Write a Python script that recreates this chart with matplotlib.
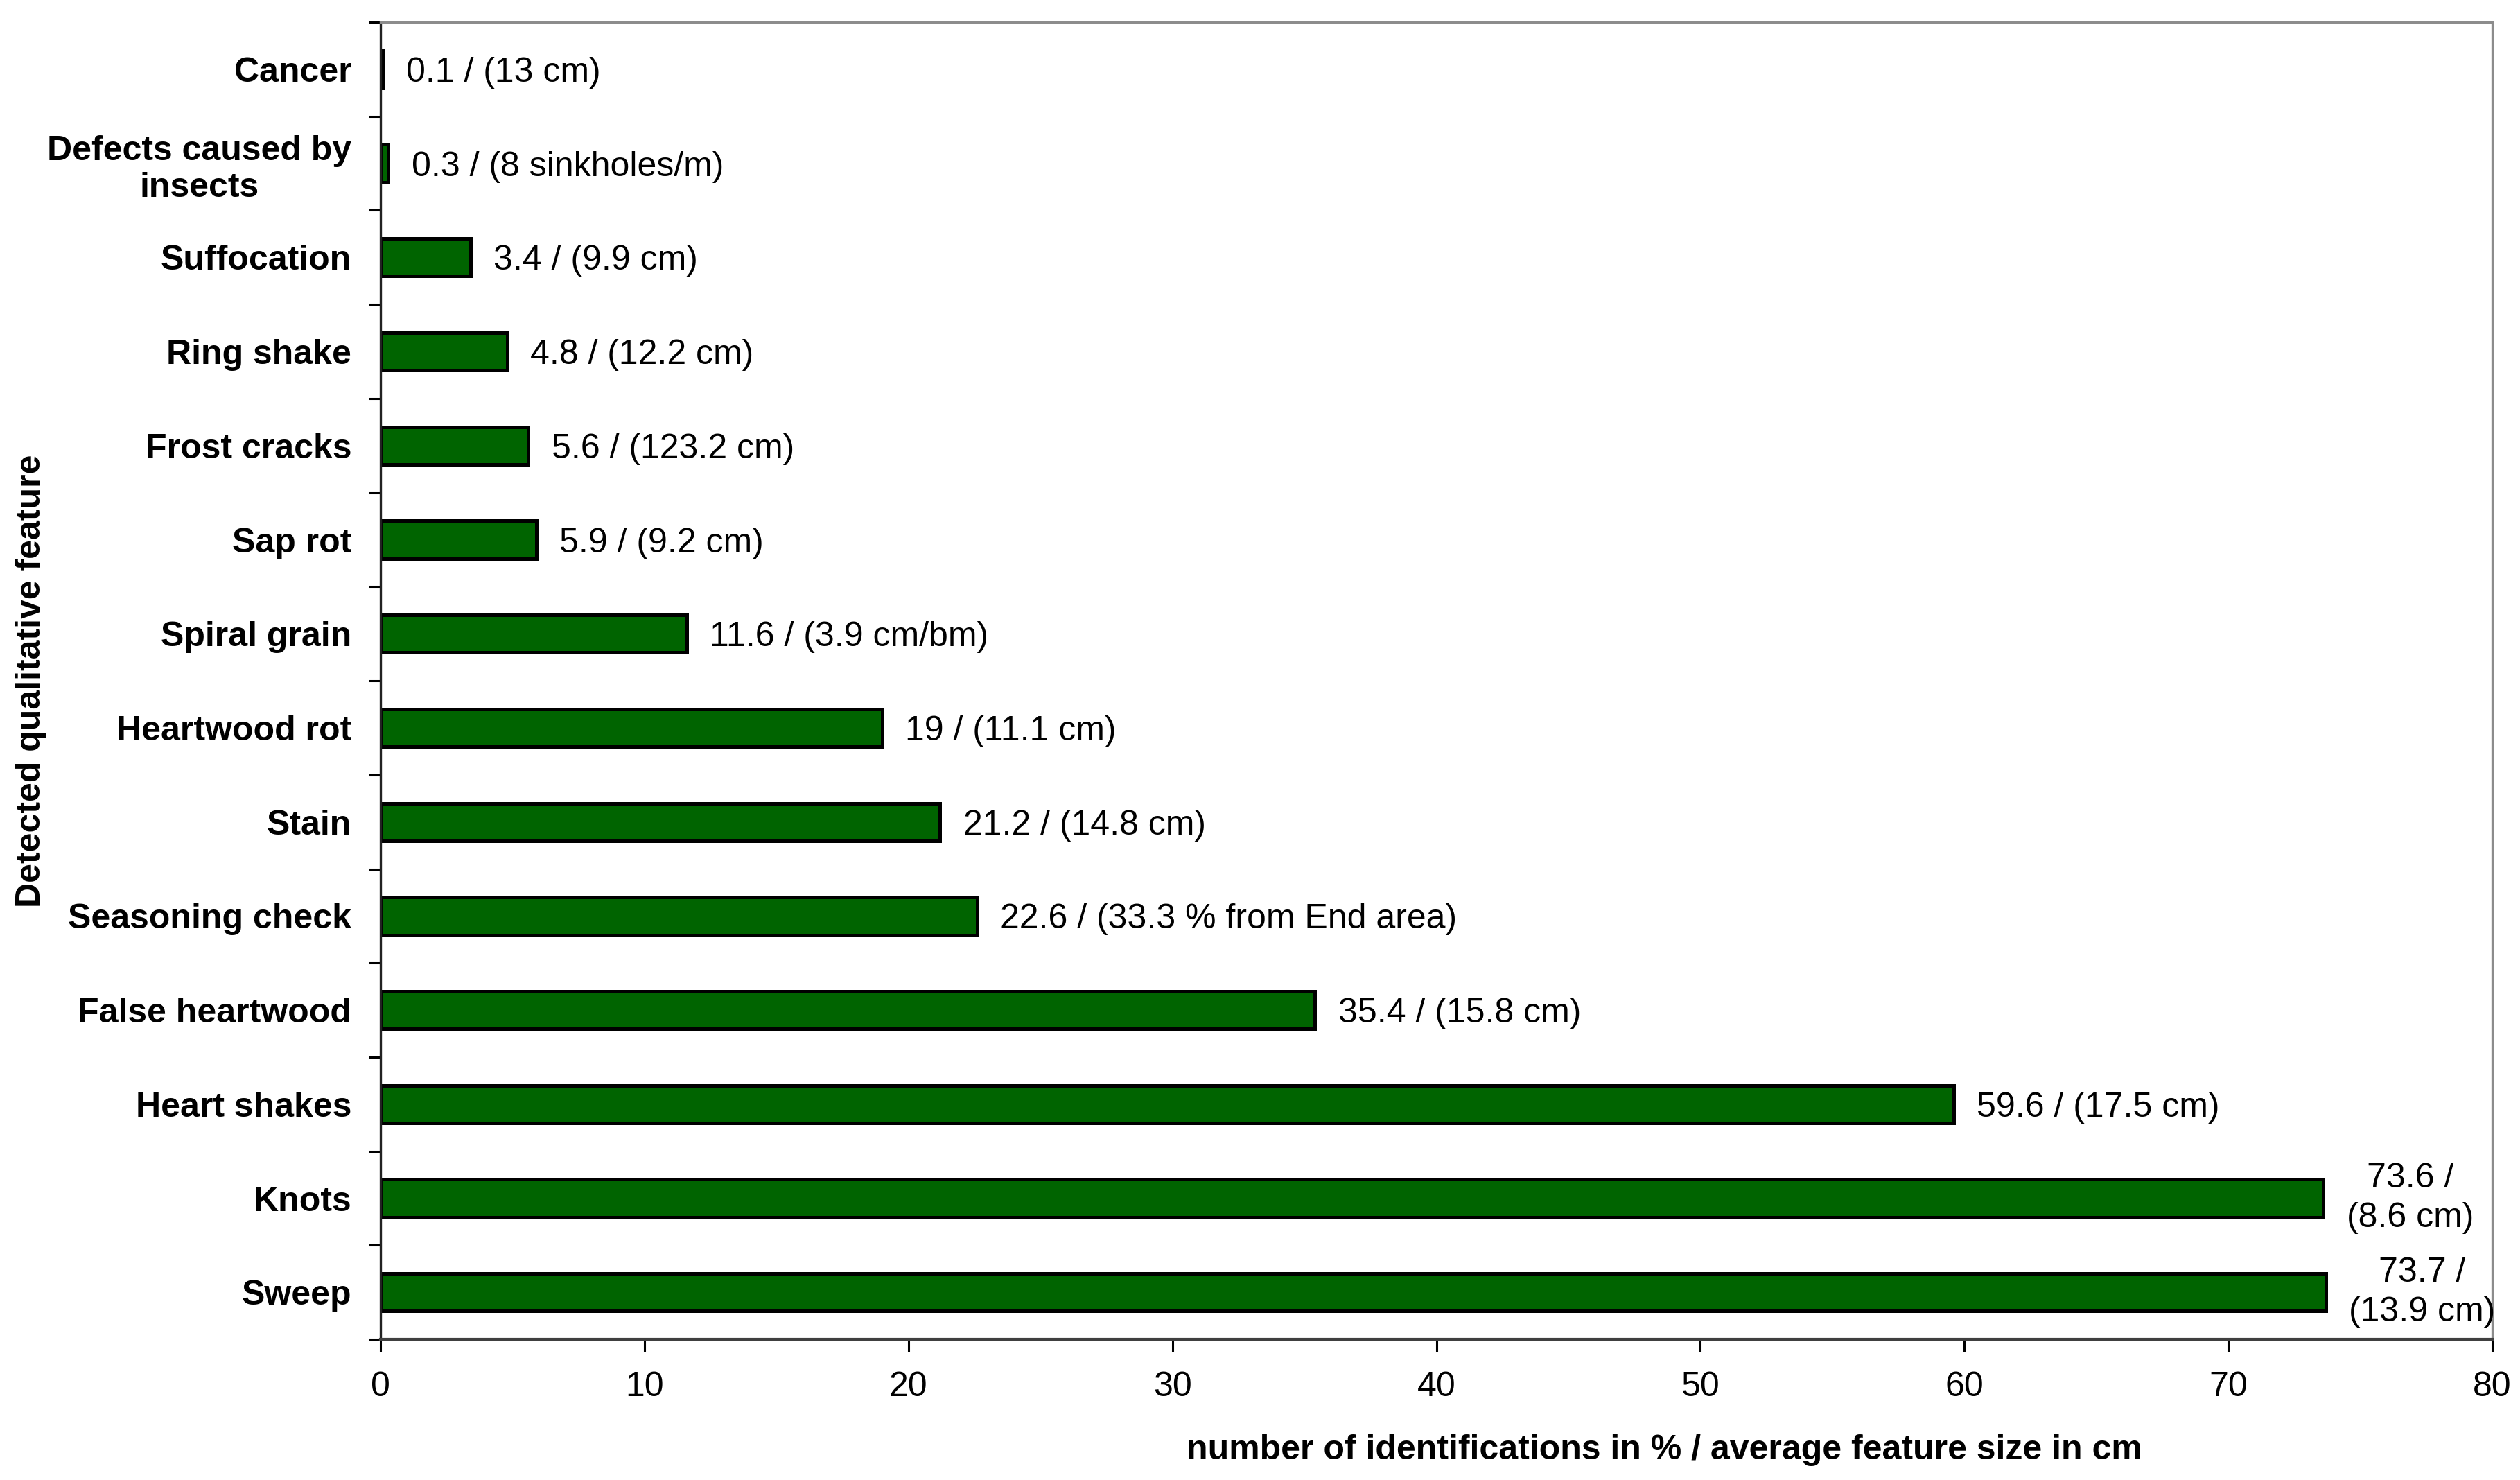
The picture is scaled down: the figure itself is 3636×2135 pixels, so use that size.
from matplotlib import pyplot as plt
import numpy as np

plt.rcParams['font.family'] = ['Liberation Sans', 'DejaVu Sans']
plt.rcParams['font.size'] = 18

# 检测到的特征
features = ['Cancer', 'Defects caused by\ninsects', 'Suffocation', 'Ring shake',
            'Frost cracks', 'Sap rot', 'Spiral grain', 'Heartwood rot', 'Stain',
            'Seasoning check', 'False heartwood', 'Heart shakes', 'Knots', 'Sweep']
percent = [0.1, 0.3, 3.4, 4.8, 5.6, 5.9, 11.6, 19, 21.2, 22.6, 35.4, 59.6, 73.6, 73.7]
sizes = ['(13 cm)', '(8 sinkholes/m)', '(9.9 cm)', '(12.2 cm)', '(123.2 cm)',
         '(9.2 cm)', '(3.9 cm/bm)', '(11.1 cm)', '(14.8 cm)',
         '(33.3 % from End area)', '(15.8 cm)', '(17.5 cm)', '(8.6 cm)', '(13.9 cm)']
xticks = [0, 10, 20, 30, 40, 50, 60, 70, 80]

fig = plt.figure(figsize=(18.18, 10.675), dpi=200)
ax = fig.add_axes([0.151, 0.095, 0.838, 0.89])

y = np.arange(len(features))
ax.barh(y, percent, height=0.4, color='#006400', edgecolor='black', linewidth=1.8)

# 数值标签
for i, (v, s) in enumerate(zip(percent, sizes)):
    vs = f'{v:g}'
    if v > 70:
        txt = f'{vs} /\n{s}'
        va = 'center'
    else:
        txt = f'{vs} / {s}'
        va = 'center_baseline'
    ax.annotate(txt, xy=(v, i), xytext=(12, 0), textcoords='offset points',
                ha='left', va=va, multialignment='center', fontsize=18,
                linespacing=1.3)

ax.set_xlim(0, 80)
ax.set_ylim(len(features) - 0.5, -0.5)
ax.set_xticks(xticks)
ax.set_yticks(y)
ax.set_yticklabels(features, fontweight='bold', multialignment='center')
ax.set_yticks(np.arange(-0.5, len(features), 1), minor=True)
ax.tick_params(axis='y', which='major', length=0, pad=15)
ax.tick_params(axis='y', which='minor', length=6, width=1.1, direction='out')
ax.tick_params(axis='x', length=6.5, width=1.1, pad=10, direction='out')

for side in ['top', 'right']:
    ax.spines[side].set_color('#8c8c8c')
    ax.spines[side].set_linewidth(1.2)
ax.spines['left'].set_color('#222222')
ax.spines['left'].set_linewidth(1.2)
ax.spines['bottom'].set_color('#404040')
ax.spines['bottom'].set_linewidth(1.5)

ax.set_xlabel('number of identifications in % / average feature size in cm',
              fontweight='bold')
ax.xaxis.set_label_coords(0.608, -0.072)
ax.set_ylabel('Detected qualitative feature', fontweight='bold')
ax.yaxis.set_label_coords(-0.158, 0.5)

plt.savefig('out.png', dpi=200)
